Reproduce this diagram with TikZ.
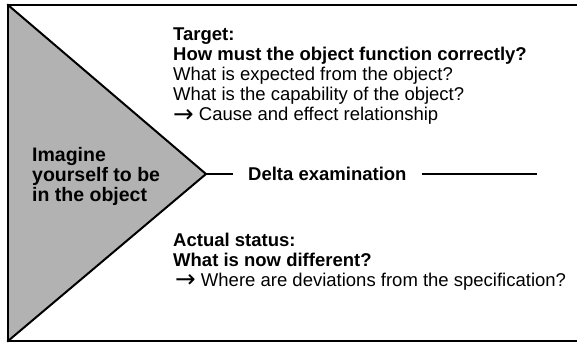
\documentclass[tikz,border=0pt]{standalone}
\usepackage{fontspec}
\setmainfont{Liberation Sans}
\newfontfamily\arrowfont{DejaVu Sans}
\newcommand{\rarr}{\raisebox{-1.5pt}{\scalebox{1.45}{\arrowfont\fontsize{17}{20}\selectfont →}}}
\begin{document}
\begin{tikzpicture}[x=1pt,y=-1pt,
  frame/.style={line width=2pt,line cap=rect,line join=miter},
  tri/.style={fill=triGray},
  txt/.style={anchor=base west,inner sep=0pt,align=left,font=\fontsize{18.5}{20}\selectfont},
  bold/.style={txt,font=\fontsize{18.5}{20}\selectfont\bfseries}]
\definecolor{triGray}{RGB}{178,178,178}
\useasboundingbox (0,0) rectangle (577,344);
\coordinate (tl) at (8,5);
\coordinate (bl) at (8,341);
\coordinate (tr) at (585,5);
\coordinate (br) at (585,341);
\coordinate (tip) at (206,174);
\fill[tri] (tl) -- (tip) -- (bl) -- cycle;
\draw[frame] (tr) -- (tl) -- (bl) -- (br);
\draw[frame] (tl) -- (tip) -- (bl);
\node[bold,font=\fontsize{19.5}{20}\selectfont\bfseries] (imagine) at (32,202) {Imagine\\yourself to be\\in the object};
\node[bold] (target) at (173,61) {Target:\\How must the object function correctly?};
\node[txt] (expected) at (173,121) {What is expected from the object?\\What is the capability of the object?\\\rarr\ Cause and effect relationship};
\node[bold,anchor=west] (delta) at (248,174) {Delta examination};
\coordinate (lineend) at (537,174);
\draw[frame,line cap=butt] (tip) -- (233,174);
\draw[frame,line cap=butt] (delta.east) ++(15,0) -- (lineend);
\node[bold] (actual) at (173,266) {Actual status:\\What is now different?};
\node[txt] (where) at (175,286) {\rarr\ Where are deviations from the specification?};
\end{tikzpicture}
\end{document}
